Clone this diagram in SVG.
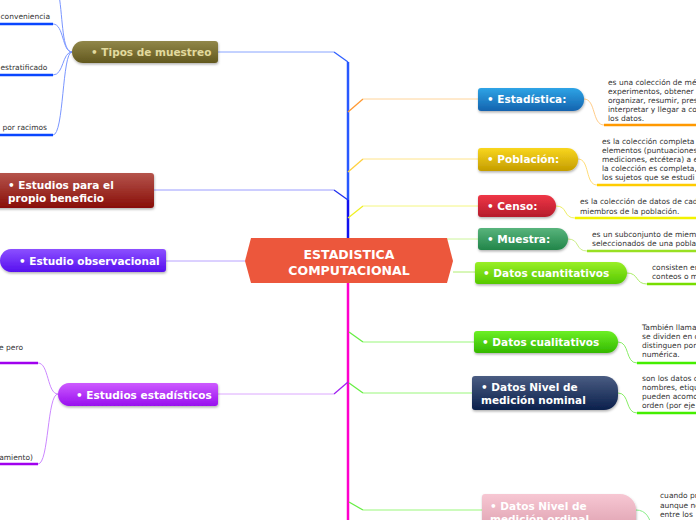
<svg xmlns="http://www.w3.org/2000/svg" width="696" height="520" viewBox="0 0 696 520">
<style>
.nt{font-family:"DejaVu Sans","Verdana",sans-serif;font-weight:bold;font-size:10.5px;fill:#ffffff}
.ct{font-family:"DejaVu Sans","Verdana",sans-serif;font-weight:bold;font-size:12.5px;fill:#ffffff}
.st{font-family:"DejaVu Sans","Verdana",sans-serif;font-size:7.5px;fill:#333333}
.thin{fill:none;stroke-width:1}
.ul{fill:none;stroke-width:2.5}
.trunk{fill:none;stroke-width:2.5}
.dg{fill:none;stroke-width:1.3}
</style>
<defs>
<filter id="sh" x="-10%" y="-20%" width="120%" height="160%"><feDropShadow dx="0.5" dy="1.5" stdDeviation="1" flood-color="#000" flood-opacity="0.3"/></filter>
<linearGradient id="gBlue" x1="0" y1="0" x2="0" y2="1"><stop offset="0" stop-color="#2ea4e6"/><stop offset="1" stop-color="#1463ae"/></linearGradient>
<linearGradient id="gGold" x1="0" y1="0" x2="0" y2="1"><stop offset="0" stop-color="#f9d61e"/><stop offset="1" stop-color="#c49d00"/></linearGradient>
<linearGradient id="gRed" x1="0" y1="0" x2="0" y2="1"><stop offset="0" stop-color="#ef3646"/><stop offset="1" stop-color="#b51c2c"/></linearGradient>
<linearGradient id="gMue" x1="0" y1="0" x2="0" y2="1"><stop offset="0" stop-color="#58b47c"/><stop offset="1" stop-color="#218549"/></linearGradient>
<linearGradient id="gCuan" x1="0" y1="0" x2="0" y2="1"><stop offset="0" stop-color="#9aef26"/><stop offset="1" stop-color="#55c800"/></linearGradient>
<linearGradient id="gCual" x1="0" y1="0" x2="0" y2="1"><stop offset="0" stop-color="#6cef24"/><stop offset="1" stop-color="#33b800"/></linearGradient>
<linearGradient id="gNavy" x1="0" y1="0" x2="0" y2="1"><stop offset="0" stop-color="#4a5c82"/><stop offset="1" stop-color="#0b204c"/></linearGradient>
<linearGradient id="gPink" x1="0" y1="0" x2="0" y2="1"><stop offset="0" stop-color="#f7c7d3"/><stop offset="1" stop-color="#d796a6"/></linearGradient>
<linearGradient id="gOlive" x1="0" y1="0" x2="0" y2="1"><stop offset="0" stop-color="#918749"/><stop offset="1" stop-color="#62581e"/></linearGradient>
<linearGradient id="gDRed" x1="0" y1="0" x2="0" y2="1"><stop offset="0" stop-color="#b5544c"/><stop offset="1" stop-color="#880e08"/></linearGradient>
<linearGradient id="gViol" x1="0" y1="0" x2="0" y2="1"><stop offset="0" stop-color="#8c50ff"/><stop offset="1" stop-color="#5610ef"/></linearGradient>
<linearGradient id="gMag" x1="0" y1="0" x2="0" y2="1"><stop offset="0" stop-color="#cd5aff"/><stop offset="1" stop-color="#9810ee"/></linearGradient>
</defs>
<rect width="696" height="520" fill="#ffffff"/>
<g id="connectors">
<path class="trunk" d="M348,62 V200" stroke="#2858ff"/>
<path class="trunk" d="M348,200 V239" stroke="#1010ee"/>
<path class="trunk" d="M348,283 V520" stroke="#ff00cc"/>
<path class="dg" d="M348,62 L334,52" stroke="#3060ff"/>
<path class="thin" d="M334,52 H218" stroke="#88a4ff"/>
<path class="dg" d="M348,200 L334,190" stroke="#2030ee"/>
<path class="thin" d="M334,190 H154" stroke="#9a9cff"/>
<path class="thin" d="M166,261 H245" stroke="#b8a2ff"/>
<path class="dg" d="M348,382 L334,394" stroke="#a020f0"/>
<path class="thin" d="M334,394 H218" stroke="#dca8ff"/>
<path class="thin" d="M72,52 C62,52 63,20 59,-5" stroke="#7a96ff"/>
<path class="thin" d="M72,52 C62,52 64,24 53,24" stroke="#7a96ff"/>
<path class="thin" d="M72,52 C62,52 64,75 53,75" stroke="#7a96ff"/>
<path class="thin" d="M72,52 C62,52 64,135 53,135" stroke="#7a96ff"/>
<path class="ul" d="M0,24 H53 M0,75 H53 M0,135 H53" stroke="#0a46ff"/>
<path class="thin" d="M58,394 C47,394 49,363 38,363" stroke="#cc88ff"/>
<path class="thin" d="M58,394 C47,394 49,464 38,464" stroke="#cc88ff"/>
<path class="ul" d="M0,363 H38 M0,464 H38" stroke="#a000ee"/>
<path class="dg" d="M348,112 L363,99" stroke="#ff9a33"/>
<path class="thin" d="M363,99 H478" stroke="#ffd49a"/>
<path class="dg" d="M348,172 L363,159" stroke="#ffd040"/>
<path class="thin" d="M363,159 H478" stroke="#ffe48a"/>
<path class="dg" d="M348,218 L363,206" stroke="#f0f020"/>
<path class="thin" d="M363,206 H478" stroke="#f4f680"/>
<path class="thin" d="M447,239 H478" stroke="#ccf59a"/>
<path class="thin" d="M453,272 H475" stroke="#b0ee70"/>
<path class="dg" d="M349,332 L363,342" stroke="#66ee44"/>
<path class="thin" d="M363,342 H474" stroke="#99f77a"/>
<path class="dg" d="M349,383 L363,393" stroke="#66ee44"/>
<path class="thin" d="M363,393 H472" stroke="#99f77a"/>
<path class="dg" d="M349,502 L363,510" stroke="#66ee44"/>
<path class="thin" d="M363,510 H482" stroke="#99f77a"/>
<path class="thin" d="M584,99 C596,99 592,125 604,125" stroke="#ffcc88"/>
<path class="ul" d="M604,125 H696" stroke="#ff9900"/>
<path class="thin" d="M578,159 C590,159 585,185 597,185" stroke="#ffdd77"/>
<path class="ul" d="M597,185 H696" stroke="#ffcc00"/>
<path class="thin" d="M556,206 C568,206 563,218 575,218" stroke="#eeee66"/>
<path class="ul" d="M575,218 H696" stroke="#f2f200"/>
<path class="thin" d="M568,239 C580,239 575,251 587,251" stroke="#ccee88"/>
<path class="ul" d="M587,251 H696" stroke="#99e022"/>
<path class="thin" d="M627,273 C639,273 635,284 647,284" stroke="#aaee66"/>
<path class="ul" d="M647,284 H696" stroke="#77dd00"/>
<path class="thin" d="M618,342 C630,342 625,363 637,363" stroke="#88ee66"/>
<path class="ul" d="M637,363 H696" stroke="#44ee00"/>
<path class="thin" d="M618,393 C630,393 625,413 637,413" stroke="#88ee66"/>
<path class="ul" d="M637,413 H696" stroke="#44ee00"/>
<path class="thin" d="M636,510 C646,510 650,518 652,528" stroke="#88ee88"/>
</g>
<g id="center">
<path d="M251,238 H447 L453,261 L447,283 H251 L245,261 Z" fill="#ec573c"/>
<text class="ct" x="349" y="259" text-anchor="middle">ESTADISTICA</text>
<text class="ct" x="349" y="274.5" text-anchor="middle">COMPUTACIONAL</text>
</g>
<g id="tipos-muestreo">
<path filter="url(#sh)" d="M83,41 H215 A3 3 0 0 1 218,44 V60 A3 3 0 0 1 215,63 H83 A11 11 0 0 1 72,52 A11 11 0 0 1 83,41Z" fill="url(#gOlive)"/>
<text class="nt" x="91" y="56" style="fill:#e2da9e">• Tipos de muestreo</text>
<text class="st" x="0.5" y="19">conveniencia</text>
<text class="st" x="0.5" y="70">estratificado</text>
<text class="st" x="47" y="130" text-anchor="end">por racimos</text>
</g>
<g id="estudios-beneficio">
<rect filter="url(#sh)" x="-5" y="173" width="159" height="35" rx="3" fill="url(#gDRed)"/>
<text class="nt" x="8" y="189">• Estudios para el</text>
<text class="nt" x="8" y="202">propio beneficio</text>
</g>
<g id="estudio-observacional">
<path filter="url(#sh)" d="M11,249 H163 A3 3 0 0 1 166,252 V269 A3 3 0 0 1 163,272 H11 A11.5 11.5 0 0 1 0,260.5 A11.5 11.5 0 0 1 11,249Z" fill="url(#gViol)"/>
<text class="nt" x="19" y="265">• Estudio observacional</text>
</g>
<g id="estudios-estadisticos">
<path filter="url(#sh)" d="M69,383 H215 A3 3 0 0 1 218,386 V403 A3 3 0 0 1 215,406 H69 A11.5 11.5 0 0 1 58,394.5 A11.5 11.5 0 0 1 69,383Z" fill="url(#gMag)"/>
<text class="nt" x="76" y="399">• Estudios estadísticos</text>
<text class="st" x="23" y="349.5" text-anchor="end">e pero</text>
<text class="st" x="33" y="459.5" text-anchor="end">amiento)</text>
</g>
<g id="estadistica">
<path filter="url(#sh)" d="M481,88 H573 A11 11 0 0 1 584,99 V100 A11 11 0 0 1 573,111 H481 A3 3 0 0 1 478,108 V91 A3 3 0 0 1 481,88 Z" fill="url(#gBlue)"/>
<text class="nt" x="487" y="103">• Estadística:</text>
<text class="st" x="608" y="85">es una colección de mé</text>
<text class="st" x="608" y="94">experimentos, obtener</text>
<text class="st" x="608" y="103">organizar, resumir, pres</text>
<text class="st" x="608" y="112">interpretar y llegar a co</text>
<text class="st" x="608" y="121">los datos.</text>
</g>
<g id="poblacion">
<path filter="url(#sh)" d="M481,148 H567 A11 11 0 0 1 578,159 V160 A11 11 0 0 1 567,171 H481 A3 3 0 0 1 478,168 V151 A3 3 0 0 1 481,148Z" fill="url(#gGold)"/>
<text class="nt" x="487" y="163">• Población:</text>
<text class="st" x="602" y="144">es la colección completa</text>
<text class="st" x="602" y="153">elementos (puntuaciones</text>
<text class="st" x="602" y="162">mediciones, etcétera) a e</text>
<text class="st" x="602" y="171">la colección es completa,</text>
<text class="st" x="602" y="180">los sujetos que se estudi</text>
</g>
<g id="censo">
<path filter="url(#sh)" d="M481,195 H545 A11 11 0 0 1 556,206 A11 11 0 0 1 545,217 H481 A3 3 0 0 1 478,214 V198 A3 3 0 0 1 481,195Z" fill="url(#gRed)"/>
<text class="nt" x="487" y="210">• Censo:</text>
<text class="st" x="580" y="204">es la colección de datos de cad</text>
<text class="st" x="580" y="213.5">miembros de la población.</text>
</g>
<g id="muestra">
<path filter="url(#sh)" d="M481,228 H557 A11 11 0 0 1 568,239 A11 11 0 0 1 557,250 H481 A3 3 0 0 1 478,247 V231 A3 3 0 0 1 481,228Z" fill="url(#gMue)"/>
<text class="nt" x="487" y="243">• Muestra:</text>
<text class="st" x="592" y="237">es un subconjunto de miem</text>
<text class="st" x="592" y="246">seleccionados de una pobla</text>
</g>
<g id="datos-cuantitativos">
<path filter="url(#sh)" d="M478,262 H616 A11 11 0 0 1 627,273 A11 11 0 0 1 616,284 H478 A3 3 0 0 1 475,281 V265 A3 3 0 0 1 478,262Z" fill="url(#gCuan)"/>
<text class="nt" x="483" y="277">• Datos cuantitativos</text>
<text class="st" x="652" y="270">consisten en</text>
<text class="st" x="652" y="279">conteos o m</text>
</g>
<g id="datos-cualitativos">
<path filter="url(#sh)" d="M477,331 H607 A11 11 0 0 1 618,342 A11 11 0 0 1 607,353 H477 A3 3 0 0 1 474,350 V334 A3 3 0 0 1 477,331Z" fill="url(#gCual)"/>
<text class="nt" x="482" y="346">• Datos cualitativos</text>
<text class="st" x="642" y="330">También llama</text>
<text class="st" x="642" y="339">se dividen en d</text>
<text class="st" x="642" y="348">distinguen por</text>
<text class="st" x="642" y="357">numérica.</text>
</g>
<g id="datos-nominal">
<path filter="url(#sh)" d="M475,376 H604 A14 14 0 0 1 618,390 V396 A14 14 0 0 1 604,410 H475 A3 3 0 0 1 472,407 V379 A3 3 0 0 1 475,376Z" fill="url(#gNavy)"/>
<text class="nt" x="481" y="391">• Datos Nivel de</text>
<text class="nt" x="481" y="404">medición nominal</text>
<text class="st" x="642" y="381">son los datos c</text>
<text class="st" x="642" y="390">nombres, etiqu</text>
<text class="st" x="642" y="399">pueden acomo</text>
<text class="st" x="642" y="408">orden (por eje</text>
</g>
<g id="datos-ordinal">
<path filter="url(#sh)" d="M485,494 H620 A16 16 0 0 1 636,510 V540 H482 V497 A3 3 0 0 1 485,494Z" fill="url(#gPink)"/>
<text class="nt" x="490" y="510">• Datos Nivel de</text>
<text class="nt" x="490" y="523">medición ordinal</text>
<text class="st" x="660" y="498">cuando pr</text>
<text class="st" x="660" y="508">aunque no</text>
<text class="st" x="660" y="517">entre los</text>
</g>
</svg>
